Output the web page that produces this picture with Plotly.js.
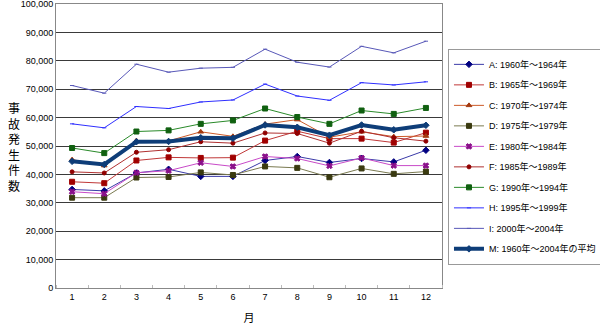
<!DOCTYPE html>
<html>
<head>
<meta charset="utf-8">
<script src="https://cdn.plot.ly/plotly-3.0.1.min.js"></script>
<style>html,body{margin:0;padding:0;background:#fff;}#chart{width:600px;height:325px;}</style>
</head>
<body>
<div id="chart"></div>
<script>
const months = [1,2,3,4,5,6,7,8,9,10,11,12];
const seriesNames = [
  "A: 1960年～1964年","B: 1965年～1969年","C: 1970年～1974年","D: 1975年～1979年",
  "E: 1980年～1984年","F: 1985年～1989年","G: 1990年～1994年","H: 1995年～1999年",
  "I: 2000年～2004年","M: 1960年～2004年の平均"
];
const seriesA = [34700,34200,40500,41800,39300,39300,44900,46300,44200,45600,44400,48500];
const seriesB = [37400,36900,44900,46000,45800,45900,51900,55200,52600,52600,51200,54700];
const seriesC = [45200,43100,51900,51800,55000,53400,57700,59300,53100,55000,53300,53500];
const seriesD = [31800,31800,38900,39100,40700,39800,42800,42300,39000,42100,40200,41000];
const seriesE = [33900,33200,40600,41300,44100,42800,46300,45600,43000,45800,43100,43100];
const seriesF = [40900,40500,47800,48700,51500,51000,54600,54400,51000,55200,52900,51700];
const seriesG = [49300,47500,55100,55500,57800,59000,63200,60200,57800,62500,61300,63400];
const seriesH = [57800,56400,63900,63200,65500,66200,71800,67600,66100,72300,71500,72600];
const seriesI = [71300,68600,78800,76000,77400,77700,84100,79500,77800,85100,82800,86900];
const seriesM = [44600,43500,51500,51600,52900,52700,57400,56600,53800,57400,55700,57300];
const yTickVals = [0,10000,20000,30000,40000,50000,60000,70000,80000,90000,100000];

const values = [seriesA,seriesB,seriesC,seriesD,seriesE,seriesF,seriesG,seriesH,seriesI,seriesM];
const styles = [
  {lc:'#3a3aa8', mc:'#000080', sym:'diamond', ms:5, lw:1},
  {lc:'#c03838', mc:'#a00000', sym:'square', ms:5, lw:1},
  {lc:'#cc5a28', mc:'#a33a10', sym:'triangle-up', ms:5, lw:1},
  {lc:'#7a7a50', mc:'#3a3a10', sym:'square', ms:5, lw:1},
  {lc:'#c84ac8', mc:'#8a108a', sym:'x', ms:5, lw:1},
  {lc:'#b03030', mc:'#900000', sym:'circle', ms:4, lw:1},
  {lc:'#2a8a2a', mc:'#106010', sym:'square', ms:5, lw:1},
  {lc:'#2f2fff', mc:'#2f2fff', sym:'line-ew', ms:3, lw:1},
  {lc:'#5858b8', mc:'#5858b8', sym:'line-ew', ms:3, lw:1},
  {lc:'#0e3d78', mc:'#0e3d78', sym:'diamond', ms:5, lw:4}
];
const FONT = 'Liberation Sans, Arial, "Noto Sans CJK JP", sans-serif';
const traces = values.map((v,i)=>({
  x: months, y: v, name: seriesNames[i], type:'scatter', mode:'lines+markers',
  legendgroup: 'g'+i,
  line:{color:styles[i].lc, width:styles[i].lw},
  marker:{color:styles[i].mc, symbol:styles[i].sym, size:styles[i].ms,
          line:{color:styles[i].mc, width:1}}
}));

const layout = {
  width:600, height:325,
  margin:{l:56, r:158, t:4, b:37, autoexpand:false},
  paper_bgcolor:'#fff', plot_bgcolor:'#fff',
  font:{family:FONT, size:9, color:'#000'},
  showlegend:true,
  legend:{x:1.0155, xanchor:'left', y:0.842, yanchor:'top',
          bordercolor:'#999', borderwidth:1, bgcolor:'#fff',
          font:{family:FONT, size:9, color:'#000'}, tracegroupgap:1.5,
          itemwidth:30},
  xaxis:{range:[0.5,12.5], tickvals:months, ticks:'', showgrid:false, zeroline:false,
         showline:true, linecolor:'#888', linewidth:1, mirror:true,
         tickfont:{family:FONT, size:9},
         minor:{tick0:0.5, dtick:1, ticks:'inside', ticklen:3, tickcolor:'#bbb', showgrid:false},
         title:{text:'月', font:{family:FONT, size:11}, standoff:13}},
  yaxis:{range:[0,100000], tickvals:yTickVals, tickformat:',d', ticks:'',
         showgrid:true, gridcolor:'#3a3a3a', gridwidth:1, zeroline:false,
         showline:true, linecolor:'#888', linewidth:1, mirror:true,
         ticklabeloverflow:'allow',
         tickfont:{family:FONT, size:9}},
  annotations:[{text:'事<br>故<br>発<br>生<br>件<br>数', xref:'paper', yref:'paper',
    x:-0.109, y:0.5, xanchor:'center', yanchor:'middle', showarrow:false,
    font:{family:'"Noto Sans CJK JP", sans-serif', size:12, color:'#000'}}]
};
Plotly.newPlot('chart', traces, layout, {displayModeBar:false, staticPlot:true});
</script>
</body>
</html>
